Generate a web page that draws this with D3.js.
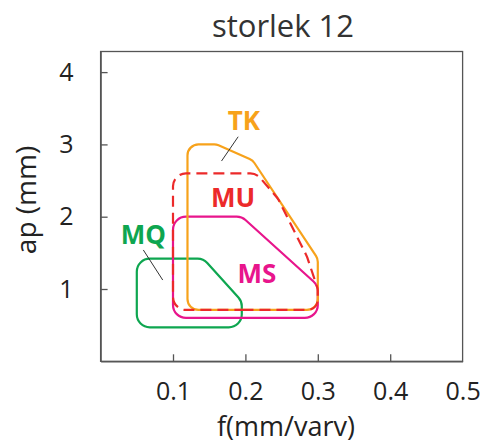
<!DOCTYPE html>
<html>
<head>
<meta charset="utf-8">
<script src="https://cdn.jsdelivr.net/npm/d3@7"></script>
<style>
  html, body { margin: 0; padding: 0; background: #fff; }
  svg { display: block; font-family: "Open Sans", sans-serif; }
</style>
</head>
<body>
<svg id="chart" width="485" height="444"></svg>
<script>
// ---- data ----
const xTicks = [0.1, 0.2, 0.3, 0.4, 0.5];
const yTicks = [1, 2, 3, 4];
const seriesNames = ["TK", "MU", "MS", "MQ"];
const tkX = [0.12, 0.12, 0.16, 0.21, 0.30, 0.30];
const tkY = [0.71, 3.0, 3.0, 2.78, 1.42, 0.71];
const muX = [0.10, 0.10, 0.215, 0.245, 0.285, 0.30, 0.30];
const muY = [0.71, 2.6, 2.6, 2.25, 1.45, 1.0, 0.71];
const msX = [0.10, 0.10, 0.195, 0.30, 0.30];
const msY = [0.6, 2.0, 2.0, 1.05, 0.6];
const mqX = [0.05, 0.05, 0.142, 0.195, 0.195];
const mqY = [0.47, 1.42, 1.42, 0.83, 0.47];
const labelX = [0.198, 0.183, 0.216, 0.059];
const labelY = [3.2, 2.13, 1.08, 1.62];
const leaderTK = [[0.190, 3.106], [0.167, 2.77]];
const leaderMQ = [[0.059, 1.54], [0.0858, 1.124]];

const colors = {TK: "#F7A21B", MU: "#EC2A2A", MS: "#E8158C", MQ: "#0EA650"};

(function () {
const svg = d3.select("#chart");
const mLeft = 100.6, mRight = 462.6, mTop = 51.5, mBottom = 361.3;
const x = d3.scaleLinear().domain([0, 0.5]).range([mLeft, mRight]);
const y = d3.scaleLinear().domain([0, 4.285]).range([mBottom, mTop]);

// frame
svg.append("rect")
  .attr("x", mLeft).attr("y", mTop)
  .attr("width", mRight - mLeft).attr("height", mBottom - mTop)
  .attr("fill", "none").attr("stroke", "#555").attr("stroke-width", 1.3);

// axes
const xAxis = d3.axisBottom(x).tickValues(xTicks).tickSizeInner(-7).tickSizeOuter(0)
  .tickPadding(21).tickFormat(d3.format(".1f"));
const gx = svg.append("g").attr("transform", `translate(0,${mBottom})`).call(xAxis);
const yAxis = d3.axisLeft(y).tickValues(yTicks).tickSizeInner(-7).tickSizeOuter(0)
  .tickPadding(27).tickFormat(d3.format("d"));
const gy = svg.append("g").attr("transform", `translate(${mLeft},0)`).call(yAxis);
[gx, gy].forEach(g => {
  g.select(".domain").attr("stroke", "#555").attr("stroke-width", 1.3);
  g.selectAll(".tick line").attr("stroke", "#555").attr("stroke-width", 1.3);
  g.selectAll(".tick text").attr("fill", "#222")
    .style("font-family", "'Open Sans', sans-serif").style("font-size", "25px");
});
gx.selectAll(".tick").filter(d => d === 0.5).select("line").remove();

// rounded polygon path
function roundedPath(px, py, r) {
  const pts = px.map((d, i) => [x(d), y(py[i])]);
  const n = pts.length;
  const p = d3.path();
  const mid = (a, b) => [(a[0] + b[0]) / 2, (a[1] + b[1]) / 2];
  const start = mid(pts[n - 1], pts[0]);
  p.moveTo(start[0], start[1]);
  for (let i = 0; i < n; i++) {
    const c = pts[i], nx = pts[(i + 1) % n], pv = pts[(i - 1 + n) % n];
    const l1 = Math.hypot(c[0] - pv[0], c[1] - pv[1]);
    const l2 = Math.hypot(nx[0] - c[0], nx[1] - c[1]);
    const rr = Math.min(r, l1 / 2, l2 / 2);
    p.arcTo(c[0], c[1], nx[0], nx[1], rr);
  }
  p.closePath();
  return p.toString();
}

const shapes = [
  {name: "MQ", xs: mqX, ys: mqY, r: 13, dash: null},
  {name: "MS", xs: msX, ys: msY, r: 13, dash: null},
  {name: "TK", xs: tkX, ys: tkY, r: 11, dash: null},
  {name: "MU", xs: muX, ys: muY, r: 13, dash: "11,6"}
];
shapes.forEach(s => {
  svg.append("path")
    .attr("d", roundedPath(s.xs, s.ys, s.r))
    .attr("fill", "none")
    .attr("stroke", colors[s.name])
    .attr("stroke-width", 2.2)
    .attr("stroke-dasharray", s.dash)
    .attr("stroke-linejoin", "round");
});

// leader lines
[leaderTK, leaderMQ].forEach(l => {
  svg.append("line")
    .attr("x1", x(l[0][0])).attr("y1", y(l[0][1]))
    .attr("x2", x(l[1][0])).attr("y2", y(l[1][1]))
    .attr("stroke", "#333").attr("stroke-width", 1);
});

// labels
seriesNames.forEach((n, i) => {
  svg.append("text")
    .attr("x", x(labelX[i])).attr("y", y(labelY[i]))
    .attr("text-anchor", "middle")
    .attr("fill", colors[n])
    .style("font-size", "26px").style("font-weight", "700")
    .text(n);
});

// title & axis labels
svg.append("text").attr("x", 283).attr("y", 36.5).attr("text-anchor", "middle")
  .attr("fill", "#333").style("font-size", "31px").text("storlek 12");
svg.append("text").attr("x", 286).attr("y", 435.5).attr("text-anchor", "middle")
  .attr("fill", "#222").style("font-size", "27px").text("f(mm/varv)");
svg.append("text").attr("transform", "translate(36,200) rotate(-90)")
  .attr("text-anchor", "middle")
  .attr("fill", "#222").style("font-size", "28px").text("ap (mm)");
})();
</script>
</body>
</html>
